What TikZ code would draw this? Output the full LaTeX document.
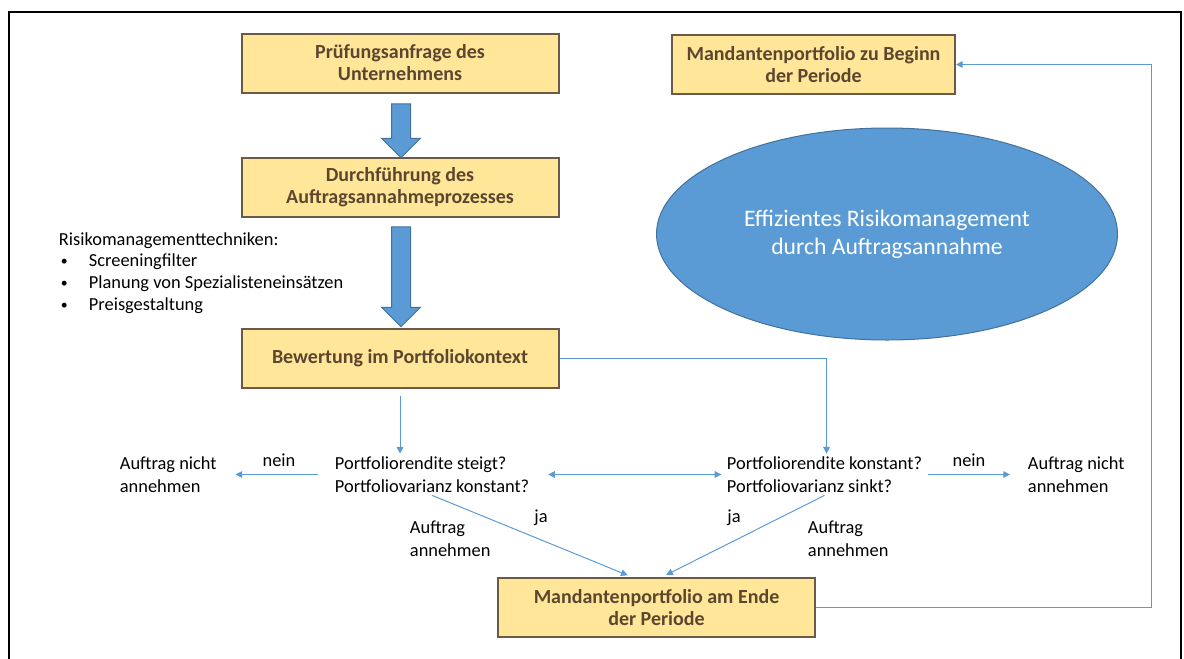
\documentclass[tikz,border=0pt]{standalone}
\usepackage{fontspec}
\setmainfont{Carlito}
\usepackage{xcolor}
\usetikzlibrary{arrows.meta,positioning,shapes.geometric,shapes.arrows}
\definecolor{auditSand}{HTML}{FFE699}
\definecolor{auditBrown}{HTML}{6B5A48}
\definecolor{auditInk}{HTML}{5C4630}
\definecolor{auditBlue}{HTML}{5B9BD5}
\definecolor{auditNavy}{HTML}{41719C}
\newcommand{\techitem}{\makebox[22.5pt][l]{\hspace{1.5pt}\raisebox{0.15ex}{\scalebox{0.75}{\textbullet}}}}

\begin{document}
\begin{tikzpicture}[
  x=0.75pt,y=-0.75pt,
  box/.style={rectangle,draw=auditBrown,fill=auditSand,line width=1.5pt,align=center,minimum width=237.75pt,minimum height=44.25pt,inner sep=2pt,text=auditInk,font=\fontsize{15}{16.5}\selectfont\bfseries},
  plain/.style={align=left,inner sep=2pt,font=\fontsize{13.8}{17.25}\selectfont},
  bigarrow/.style={single arrow,shape border rotate=270,fill=auditBlue,draw=auditNavy,line width=0.75pt,inner sep=6.75pt,single arrow head extend=7.5pt,single arrow head indent=0pt},
  flow/.style={-{Triangle[length=5pt,width=5pt]},line width=0.75pt,color=auditBlue}
]
\useasboundingbox (0,0) rectangle (1184,658);
\draw[line width=1.5pt] (9,670) -- (9,12) -- (1181,12) -- (1181,670);

\node[box] (b1) at (400,63) {Prüfungsanfrage des\\Unternehmens};
\node[box] (b2) at (400,187.5) {Durchführung des\\Auftragsannahmeprozesses};
\node[box] (b3) at (400,358) {Bewertung im Portfoliokontext};
\node[box,minimum width=212.25pt] (b4) at (813.5,64.5) {Mandantenportfolio zu Beginn\\der Periode};
\node[box] (b5) at (656.5,607.5) {Mandantenportfolio am Ende\\der Periode};

\node[bigarrow,minimum height=40.5pt] (a1) at (401,126) {};
\node[bigarrow,minimum height=75pt] (a2) at (401,272) {};

\node[ellipse,fill=auditBlue,draw=auditNavy,line width=0.75pt,minimum width=345.75pt,minimum height=159pt,inner sep=0pt,text=white,align=center,font=\fontsize{17.75}{21}\selectfont] (goal) at (887,234) {Effizientes Risikomanagement\\durch Auftragsannahme};

\node[plain,anchor=west,font=\fontsize{13.8}{16.3}\selectfont] (tech) at (56,273) {Risikomanagementtechniken:\\
\techitem Screeningfilter\\
\techitem Planung von Spezialisteneinsätzen\\
\techitem Preisgestaltung};

\node[plain,anchor=west] (q1) at (332,474.5) {Portfoliorendite steigt?\\Portfoliovarianz konstant?};
\node[plain,anchor=west] (q2) at (724,474.5) {Portfoliorendite konstant?\\Portfoliovarianz sinkt?};
\node[plain,anchor=west] (no1) at (117,474.5) {Auftrag nicht\\annehmen};
\node[plain,anchor=west] (no2) at (1025,474.5) {Auftrag nicht\\annehmen};
\node[plain] (nein1) at (279,460) {nein};
\node[plain] (nein2) at (969,460) {nein};
\node[plain] (ja1) at (541,518) {ja};
\node[plain] (ja2) at (734,518) {ja};
\node[plain,anchor=west] (yes1) at (407,539) {Auftrag\\annehmen};
\node[plain,anchor=west] (yes2) at (805,539) {Auftrag\\annehmen};

\coordinate (turn) at (1151,0);

\draw[flow,shorten <=5.25pt] (b3.south) -- (b3.south |- q1.north);
\draw[flow] (b3.east) -| ([xshift=1.5pt]q2.north);
\draw[flow,{Triangle[length=5pt,width=5pt]}-{Triangle[length=5pt,width=5pt]},shorten <=12pt,shorten >=2pt] (q1.east) -- (q2.west);
\draw[flow,shorten <=10.5pt,shorten >=12pt] (q1.west) -- (no1.east);
\draw[flow,shorten <=2.25pt,shorten >=11.25pt] (q2.east) -- (no2.west);
\draw[flow,shorten >=3.5pt] (q1.south) -- ([xshift=-18.4pt]b5.north);
\draw[flow,shorten >=3.5pt] (q2.south) -- ([xshift=4.1pt]b5.north);
\draw[flow] (b5.east) -- (b5.east -| turn) |- (b4.east);
\end{tikzpicture}
\end{document}
